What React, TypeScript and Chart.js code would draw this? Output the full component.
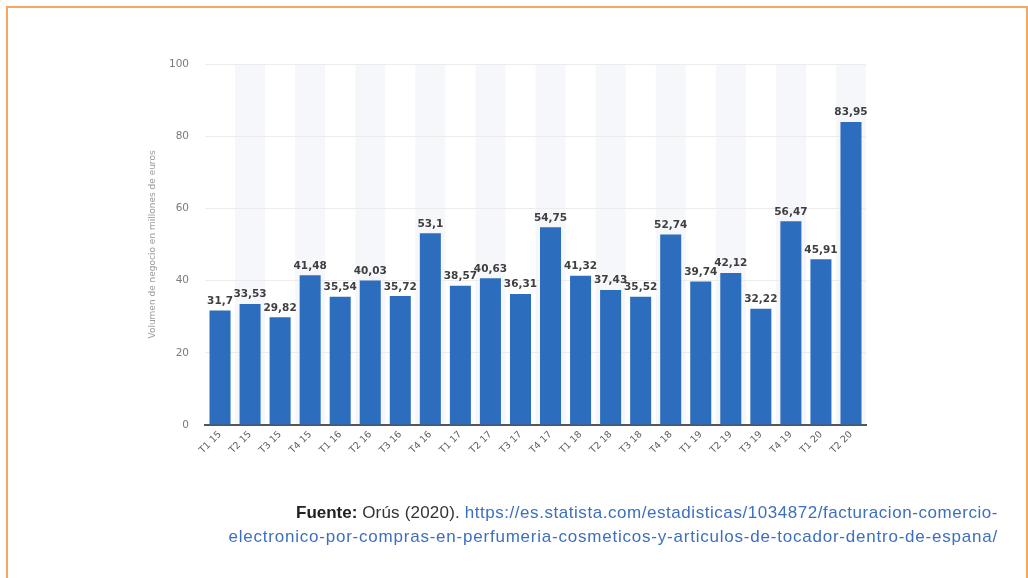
import React, { useEffect, useRef } from "react";
import { Chart, registerables } from "chart.js";

Chart.register(...registerables);

const categories = [
  "T1 15", "T2 15", "T3 15", "T4 15",
  "T1 16", "T2 16", "T3 16", "T4 16",
  "T1 17", "T2 17", "T3 17", "T4 17",
  "T1 18", "T2 18", "T3 18", "T4 18",
  "T1 19", "T2 19", "T3 19", "T4 19",
  "T1 20", "T2 20",
];
const values = [
  31.7, 33.53, 29.82, 41.48,
  35.54, 40.03, 35.72, 53.1,
  38.57, 40.63, 36.31, 54.75,
  41.32, 37.43, 35.52, 52.74,
  39.74, 42.12, 32.22, 56.47,
  45.91, 83.95,
];
const yTicks = [0, 20, 40, 60, 80, 100];
const yTitle = "Volumen de negocio en millones de euros";

const bandPlugin = {
  id: "bands",
  beforeDraw(chart: any) {
    const { ctx, chartArea } = chart;
    const xs = chart.scales.x;
    const n = categories.length;
    const w = chartArea.width / n;
    ctx.save();
    ctx.fillStyle = "#f5f7fa";
    for (let i = 1; i < n; i += 2) {
      const cx = xs.getPixelForValue(i);
      ctx.fillRect(cx - w / 2, chartArea.top, w, chartArea.bottom - chartArea.top);
    }
    ctx.restore();
  },
};

const labelPlugin = {
  id: "valueLabels",
  afterDatasetsDraw(chart: any) {
    const { ctx } = chart;
    const meta = chart.getDatasetMeta(0);
    ctx.save();
    ctx.font = "bold 10.5px 'DejaVu Sans'";
    ctx.fillStyle = "#3f3f3f";
    ctx.textAlign = "center";
    ctx.textBaseline = "bottom";
    meta.data.forEach((el: any, i: number) => {
      ctx.fillText(String(values[i]).replace(".", ","), el.x, el.y - 4);
    });
    ctx.restore();
  },
};

export default function App() {
  const ref = useRef<HTMLCanvasElement>(null);
  useEffect(() => {
    document.body.style.margin = "0";
    const chart = new Chart(ref.current!, {
      type: "bar",
      data: {
        labels: categories,
        datasets: [
          {
            data: values,
            backgroundColor: "#2c6dbe",
            barPercentage: 0.7,
            categoryPercentage: 1,
          },
        ],
      },
      options: {
        animation: false,
        responsive: false,
        maintainAspectRatio: false,
        layout: { padding: { left: 147, top: 64, right: 162, bottom: 113 } },
        plugins: { legend: { display: false }, tooltip: { enabled: false } },
        scales: {
          x: {
            grid: { display: false, drawTicks: false },
            border: { display: true, color: "#555555", width: 2 },
            ticks: {
              autoSkip: false,
              maxRotation: 45,
              minRotation: 45,
              padding: 4,
              color: "#5e5e5e",
              font: { family: "'DejaVu Sans'", size: 9.5 },
            },
            afterFit: (s: any) => { s.height = 40; },
          },
          y: {
            min: 0,
            max: 100,
            afterBuildTicks: (s: any) => { s.ticks = yTicks.map((v) => ({ value: v })); },
            grid: { color: "#ececec", lineWidth: 1, drawTicks: false },
            border: { display: false },
            ticks: {
              padding: 16,
              color: "#7a7a7a",
              font: { family: "'DejaVu Sans'", size: 10.5 },
            },
            title: {
              display: true,
              text: yTitle,
              color: "#9a9a9a",
              padding: { top: 0, bottom: 0 },
              font: { family: "'DejaVu Sans'", size: 9 },
            },
            afterFit: (s: any) => { s.width = 58; },
          },
        },
      },
      plugins: [bandPlugin, labelPlugin],
    });
    return () => chart.destroy();
  }, []);

  const textStyle: React.CSSProperties = {
    position: "absolute",
    right: 30,
    top: 501,
    textAlign: "right",
    fontFamily: "'Liberation Sans', Arial, sans-serif",
    fontSize: 17,
    lineHeight: "24px",
    color: "#333333",
    width: 960,
  };

  return (
    <div style={{ position: "relative", width: 1028, height: 578, overflow: "hidden", background: "#ffffff" }}>
      <div
        style={{
          position: "absolute",
          left: 6,
          top: 6,
          width: 1018,
          height: 600,
          border: "2px solid #f6a660",
        }}
      />
      <canvas ref={ref} width={1028} height={578} style={{ position: "absolute", left: 0, top: 0, width: 1028, height: 578 }} />
      <div style={textStyle}>
        <b style={{ color: "#222222" }}>Fuente:</b> <span style={{ letterSpacing: "0.2px" }}>Orús (2020).</span>{" "}
        <span style={{ color: "#3d6fc0", letterSpacing: "0.55px" }}>https://es.statista.com/estadisticas/1034872/facturacion-comercio-</span>
        <br />
        <span style={{ color: "#3d6fc0", letterSpacing: "0.78px" }}>electronico-por-compras-en-perfumeria-cosmeticos-y-articulos-de-tocador-dentro-de-espana/</span>
      </div>
    </div>
  );
}
